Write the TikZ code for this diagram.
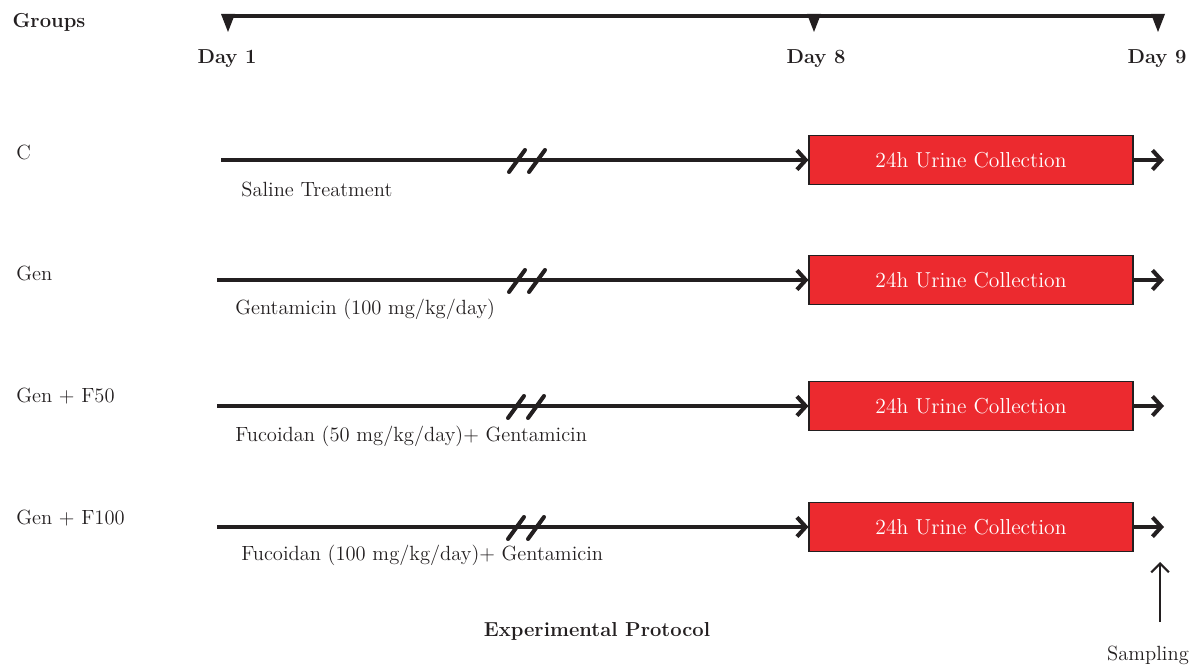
\documentclass[tikz,border=0pt]{standalone}
\usepackage{fontspec}
\usetikzlibrary{arrows.meta}
\definecolor{ink}{HTML}{231F20}
\definecolor{boxred}{HTML}{EC2A2F}
\tikzset{
    txt/.style={text=ink, font=\fontsize{11.7}{14}\selectfont, inner sep=0pt},
    bold/.style={txt, font=\fontsize{11.5}{14}\selectfont\bfseries},
    track/.style={draw=ink, line width=2.3pt, -{Straight Barb[length=5pt,width=11pt,line width=2.3pt]}},
    collect/.style={draw=ink, fill=boxred, line width=0.6pt, minimum width=324*0.02cm, minimum height=49*0.02cm, text=white, font=\fontsize{12.3}{14}\selectfont, inner sep=0pt},
    brk/.style={draw=ink, line width=2.3pt, line cap=round}
}
\begin{document}
\begin{tikzpicture}[x=0.02cm, y=-0.02cm]
        \useasboundingbox (0,0) rectangle (1196,665);
        % Timeline
        \coordinate (T1) at (228,16);
        \coordinate (T8) at (814,16);
        \coordinate (T9) at (1158,16);
        \draw[draw=ink, line width=2.3pt] (T1) -- (T9);
        \fill[ink] (221,14) -- (235,14) -- (228,32) -- cycle;
        \fill[ink] (807,14) -- (821,14) -- (814,32) -- cycle;
        \fill[ink] (1151,14) -- (1165,14) -- (1158,32) -- cycle;
        \node[bold] (groups) at (49,22) {Groups};
        \node[bold] (day1) at (227,59) {Day 1};
        \node[bold] (day8) at (816,59) {Day 8};
        \node[bold] (day9) at (1157,59) {Day 9};

        % Group C
        \node[txt, anchor=west] (gC) at (16,152) {C};
        \coordinate (sC) at (221,160);
        \node[collect] (bC) at (971,160) {24h Urine Collection};
        \coordinate (eC) at (1164,160);
        \draw[track] (sC) -- (bC.west);
        \draw[track] (bC.east) -- (eC);
        \draw[brk] (509,172) -- (525,150);
        \draw[brk] (529,172) -- (545,150);
        \node[txt, anchor=west] (lC) at (241,189) {Saline Treatment};

        % Group Gen
        \node[txt, anchor=west] (gG) at (16,273) {Gen};
        \coordinate (sG) at (217,280);
        \node[collect] (bG) at (971,280) {24h Urine Collection};
        \coordinate (eG) at (1164,280);
        \draw[track] (sG) -- (bG.west);
        \draw[track] (bG.east) -- (eG);
        \draw[brk] (509,292) -- (525,270);
        \draw[brk] (529,292) -- (545,270);
        \node[txt, anchor=west] (lG) at (235,309) {Gentamicin (100 mg/kg/day)};

        % Group Gen + F50
        \node[txt, anchor=west] (gF50) at (16,396) {Gen + F50};
        \coordinate (sF50) at (217,406);
        \node[collect] (bF50) at (971,406) {24h Urine Collection};
        \coordinate (eF50) at (1164,406);
        \draw[track] (sF50) -- (bF50.west);
        \draw[track] (bF50.east) -- (eF50);
        \draw[brk] (508,418) -- (524,396);
        \draw[brk] (528,418) -- (544,396);
        \node[txt, anchor=west] (lF50) at (235,436) {Fucoidan (50 mg/kg/day)+ Gentamicin};

        % Group Gen + F100
        \node[txt, anchor=west] (gF100) at (16,518) {Gen + F100};
        \coordinate (sF100) at (217,527);
        \node[collect] (bF100) at (971,527) {24h Urine Collection};
        \coordinate (eF100) at (1164,527);
        \draw[track] (sF100) -- (bF100.west);
        \draw[track] (bF100.east) -- (eF100);
        \draw[brk] (508,539) -- (524,517);
        \draw[brk] (528,539) -- (544,517);
        \node[txt, anchor=west] (lF100) at (241,555) {Fucoidan (100 mg/kg/day)+ Gentamicin};

        % Sampling
        \node[txt] (samp) at (1148,655) {Sampling};
        \coordinate (sampTop) at (1160,562);
        \draw[draw=ink, line width=1.2pt, -{Straight Barb[length=5pt,width=10pt,line width=1.2pt]}] (1160,622) -- (sampTop);

        % Title
        \node[bold] (title) at (597,631) {Experimental Protocol};
\end{tikzpicture}
\end{document}
